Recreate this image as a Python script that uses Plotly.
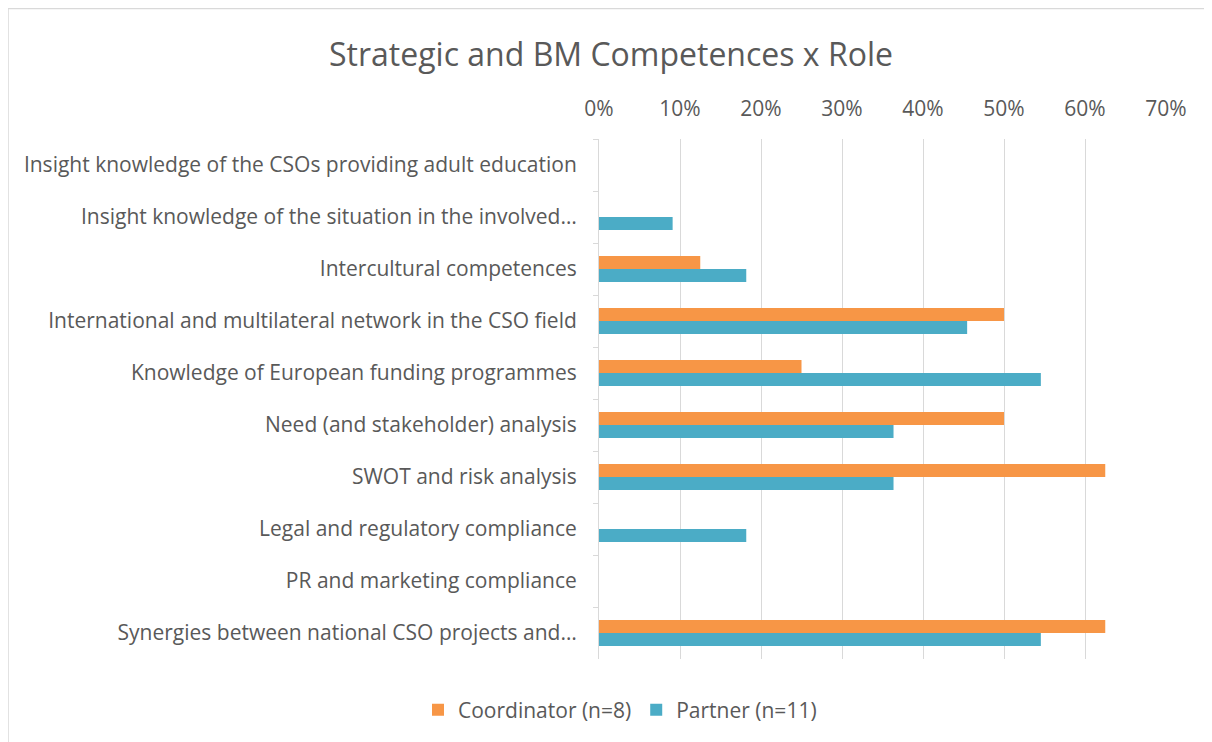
import plotly.graph_objects as go

categories = [
    "Insight knowledge of the CSOs providing adult education",
    "Insight knowledge of the situation in the involved…",
    "Intercultural competences",
    "International and multilateral network in the CSO field",
    "Knowledge of European funding programmes",
    "Need (and stakeholder) analysis",
    "SWOT and risk analysis",
    "Legal and regulatory compliance",
    "PR and marketing compliance",
    "Synergies between national CSO projects and…",
]
coordinator = [0.0, 0.0, 0.125, 0.5, 0.25, 0.5, 0.625, 0.0, 0.0, 0.625]
partner = [0.0, 0.0909, 0.1818, 0.4545, 0.5455, 0.3636, 0.3636, 0.1818, 0.0, 0.5455]
series_names = ["Coordinator (n=8)", "Partner (n=11)"]
colors = ["#F79646", "#4BACC6"]

W, H = 1212, 742
L, R, T, B = 591, 54, 131, 91

FONT = "Open Sans"
TXT = "#595959"

fig = go.Figure()
for name, vals, col in zip(series_names, [coordinator, partner], colors):
    fig.add_trace(go.Bar(
        y=categories, x=vals, name=name, orientation="h",
        marker=dict(color=col, line=dict(width=0)),
        hoverinfo="x+y",
    ))

pw, ph = W - L - R, H - T - B
def px_x(p):
    return (p - L) / pw
def px_y(p):
    return (H - B - p) / ph

fig.update_layout(
    width=W, height=H,
    margin=dict(l=L, r=R, t=T, b=B),
    paper_bgcolor="white", plot_bgcolor="white",
    barmode="group", bargap=0.5, bargroupgap=0,
    font=dict(family=FONT, color=TXT, size=21),
    title=dict(text="Strategic and BM Competences x Role", x=603 / W, xanchor="center",
               y=1 - 47 / H, yanchor="middle",
               font=dict(family=FONT, size=32, color=TXT)),
    xaxis=dict(side="top", range=[0, 0.7], tickformat=".0%", dtick=0.1,
               showgrid=True, gridcolor="#D9D9D9", gridwidth=1,
               zeroline=False, showline=False, ticks="",
               ticklabelstandoff=18,
               tickfont=dict(size=21, color=TXT), fixedrange=True),
    yaxis=dict(autorange="reversed", showline=True, linecolor="#D9D9D9", linewidth=1,
               ticks="outside", tickcolor="#D9D9D9", ticklen=5, tickson="boundaries",
               showgrid=False, tickfont=dict(size=21, color=TXT),
               ticklabelstandoff=17,
               fixedrange=True),
    legend=dict(orientation="h", x=px_x(612), xanchor="center",
                y=px_y(702), yanchor="middle",
                font=dict(size=21, color=TXT), traceorder="normal"),
    shapes=[
        dict(type="line", xref="paper", yref="paper", x0=px_x(0), x1=px_x(W),
             y0=px_y(0.5), y1=px_y(0.5), line=dict(color="#D9D9D9", width=1.5)),
        dict(type="line", xref="paper", yref="paper", x0=px_x(0), x1=px_x(0),
             y0=px_y(0.5), y1=px_y(H), line=dict(color="#D9D9D9", width=1.5)),
    ],
)

fig.write_html("out.html")
